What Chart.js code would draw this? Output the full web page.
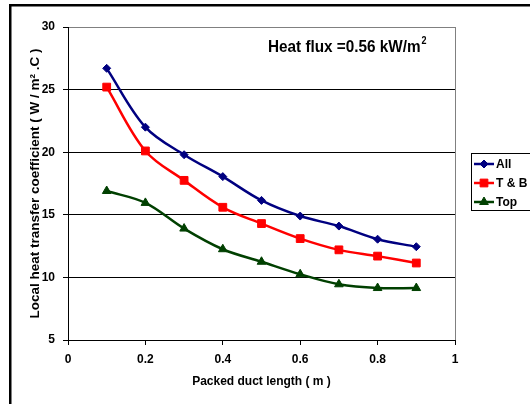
<!DOCTYPE html>
<html>
<head>
<meta charset="utf-8">
<script src="https://cdn.jsdelivr.net/npm/chart.js@4.4.1/dist/chart.umd.min.js"></script>
<style>
  body { margin: 0; background: #fff; }
  canvas { display: block; }
</style>
</head>
<body>
<canvas id="chart" width="530" height="404"></canvas>
<script>
// values
const lengths = [0.1, 0.2, 0.3, 0.4, 0.5, 0.6, 0.7, 0.8, 0.9];
const allSides = [26.7, 22.0, 19.8, 18.05, 16.15, 14.9, 14.1, 13.05, 12.45];
const topBottom = [25.2, 20.1, 17.75, 15.6, 14.3, 13.1, 12.2, 11.7, 11.15];
const topOnly = [16.9, 15.95, 13.9, 12.25, 11.25, 10.25, 9.45, 9.15, 9.15];
const seriesNames = ["All", "T & B", "Top"];
const xTickLabels = ["0", "0.2", "0.4", "0.6", "0.8", "1"];
const yTickLabels = ["5", "10", "15", "20", "25", "30"];

const FONT = "'Liberation Sans', Arial, sans-serif";
const bold12 = { family: FONT, size: 12, weight: "bold" };

function pairs(ys) {
  return lengths.map((x, i) => ({ x: x, y: ys[i] }));
}

function series(label, ys, color, style, radius) {
  return {
    label: label,
    data: pairs(ys),
    borderColor: color,
    backgroundColor: color,
    pointBackgroundColor: color,
    pointBorderColor: color,
    pointBorderWidth: 1,
    pointStyle: style,
    pointRadius: radius,
    pointHoverRadius: radius,
    borderWidth: 2.5,
    tension: 0.35,
    fill: false,
  };
}

// outer frame (left and top edges only are visible in the picture)
const frame = {
  id: "frame",
  afterDraw(chart) {
    const ctx = chart.ctx;
    ctx.save();
    ctx.fillStyle = "#000";
    ctx.fillRect(9, 4, 530, 2.5);
    ctx.fillRect(9, 4, 2.5, 404);
    ctx.restore();
  },
};

// "Heat flux" note in the plot
const note = {
  id: "note",
  afterDraw(chart) {
    const ctx = chart.ctx;
    ctx.save();
    ctx.translate(268, 52);
    ctx.scale(0.9, 1);
    ctx.fillStyle = "#000";
    ctx.textBaseline = "alphabetic";
    ctx.font = "bold 17px " + FONT;
    const txt = "Heat flux =0.56 kW/m";
    ctx.fillText(txt, 0, 0);
    const w = ctx.measureText(txt).width;
    ctx.font = "bold 10px " + FONT;
    ctx.fillText("2", w + 1, -8);
    ctx.restore();
  },
};

// boxed legend on the right, partly cut off by the edge
const legendBox = {
  id: "legendBox",
  afterDraw(chart) {
    const ctx = chart.ctx;
    ctx.save();
    ctx.strokeStyle = "#000";
    ctx.lineWidth = 1;
    ctx.strokeRect(471.5, 153.5, 80, 57);
    chart.data.datasets.forEach((ds, i) => {
      const y = 164 + i * 19;
      ctx.strokeStyle = ds.borderColor;
      ctx.lineWidth = 2.5;
      ctx.beginPath();
      ctx.moveTo(474, y);
      ctx.lineTo(494, y);
      ctx.stroke();
      ctx.fillStyle = ds.pointBackgroundColor;
      ctx.lineWidth = 1;
      Chart.helpers.drawPoint(ctx, {
        pointStyle: ds.pointStyle,
        radius: ds.pointRadius,
        borderWidth: 1,
        rotation: 0,
      }, 484, y);
      ctx.fillStyle = "#000";
      ctx.font = "bold 12px " + FONT;
      ctx.textBaseline = "middle";
      ctx.fillText(ds.label, 496, y + 1);
    });
    ctx.restore();
  },
};

new Chart(document.getElementById("chart"), {
  type: "line",
  data: {
    datasets: [
      series(seriesNames[0], allSides, "#000080", "rectRot", 4),
      series(seriesNames[1], topBottom, "#ff0000", "rect", 5.5),
      series(seriesNames[2], topOnly, "#004000", "triangle", 5),
    ],
  },
  options: {
    responsive: false,
    animation: false,
    events: [],
    layout: { padding: { left: 0, top: 27, right: 75, bottom: 0 } },
    plugins: {
      legend: { display: false },
      tooltip: { enabled: false },
    },
    scales: {
      x: {
        type: "linear",
        min: 0,
        max: 1,
        ticks: {
          stepSize: 0.2,
          color: "#000",
          font: bold12,
          padding: 7,
          maxRotation: 0,
          callback: (v, i) => xTickLabels[i],
        },
        grid: {
          color: (c) => (c.tick && c.tick.value === 1 ? "#808080" : "rgba(0,0,0,0)"),
          tickColor: "#000",
          tickLength: 5,
        },
        border: { color: "#000", width: 1 },
        title: {
          display: true,
          text: "Packed duct length ( m )",
          color: "#000",
          font: bold12,
          padding: { top: 0, bottom: 15 },
        },
        afterFit(scale) { scale.height = 64; },
      },
      y: {
        min: 5,
        max: 30,
        ticks: {
          stepSize: 5,
          color: "#000",
          font: bold12,
          padding: 8,
          callback: (v, i) => yTickLabels[i],
        },
        grid: {
          color: (c) => (c.tick && c.tick.value === 30 ? "#808080" : "#000"),
          tickColor: "#000",
          tickLength: 5,
        },
        border: { color: "#000", width: 1 },
        title: {
          display: true,
          text: "Local heat transfer coefficient ( W / m² .C )",
          color: "#000",
          font: { family: FONT, size: 13.5, weight: "bold" },
          padding: { top: 27, bottom: 0 },
        },
        afterFit(scale) { scale.width = 68; },
      },
    },
  },
  plugins: [frame, note, legendBox],
});
</script>
</body>
</html>
